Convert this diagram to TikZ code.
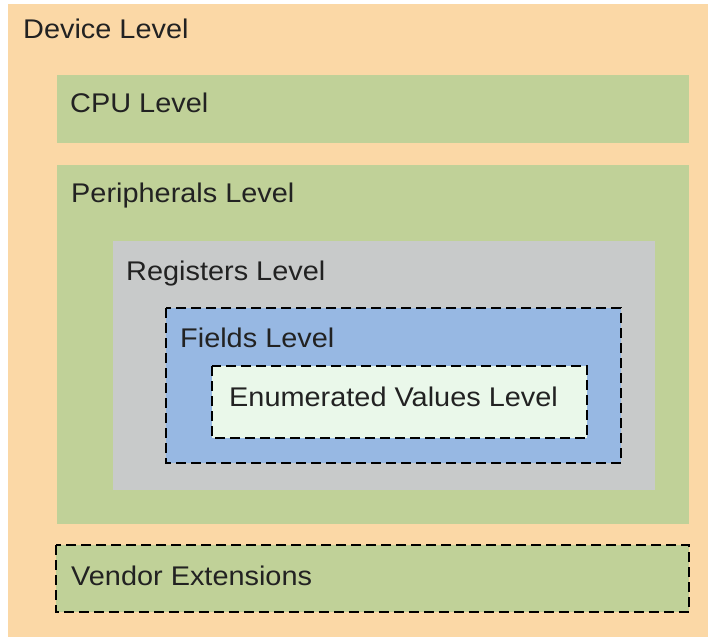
\documentclass[tikz,border=0pt]{standalone}
\usepackage{fontspec}
\setmainfont[FakeStretch=1.07]{Liberation Sans}
\definecolor{devc}{HTML}{FBD8A6}
\definecolor{grnc}{HTML}{C0D198}
\definecolor{grayc}{HTML}{C8CACA}
\definecolor{bluec}{HTML}{97B8E3}
\definecolor{palec}{HTML}{EAF8EA}
\definecolor{txtc}{HTML}{222222}
\begin{document}
\begin{tikzpicture}[x=1pt,y=-1pt,
  lvl/.style={anchor=base west,inner sep=0pt,font=\fontsize{27}{31}\selectfont,text=txtc},
  dashbox/.style={draw=black,line width=1.8pt,dash pattern=on 10pt off 5pt}]
\useasboundingbox (0,0) rectangle (710,639);
\fill[white] (0,0) rectangle (710,639);
\fill[devc] (8,4) rectangle (708,637);
\fill[grnc] (57,75) rectangle (689,143);
\fill[grnc] (57,165) rectangle (689,524);
\fill[grayc] (113,241) rectangle (655,490);
\fill[bluec] (166,308) rectangle (621,463);
\draw[dashbox] (166,308) rectangle (621,463);
\fill[palec] (212,366) rectangle (587,438);
\draw[dashbox] (212,366) rectangle (587,438);
\fill[grnc] (56,545) rectangle (689,612);
\draw[dashbox] (56,545) rectangle (689,612);
\node[lvl] (dev) at (23,39) {Device Level};
\node[lvl] (cpu) at (70,113) {CPU Level};
\node[lvl] (per) at (71,203) {Peripherals Level};
\node[lvl] (reg) at (126,280) {Registers Level};
\node[lvl] (fld) at (180,347) {Fields Level};
\node[lvl] (enu) at (229,406) {Enumerated Values Level};
\node[lvl] (ven) at (71,585) {Vendor Extensions};
\end{tikzpicture}
\end{document}
